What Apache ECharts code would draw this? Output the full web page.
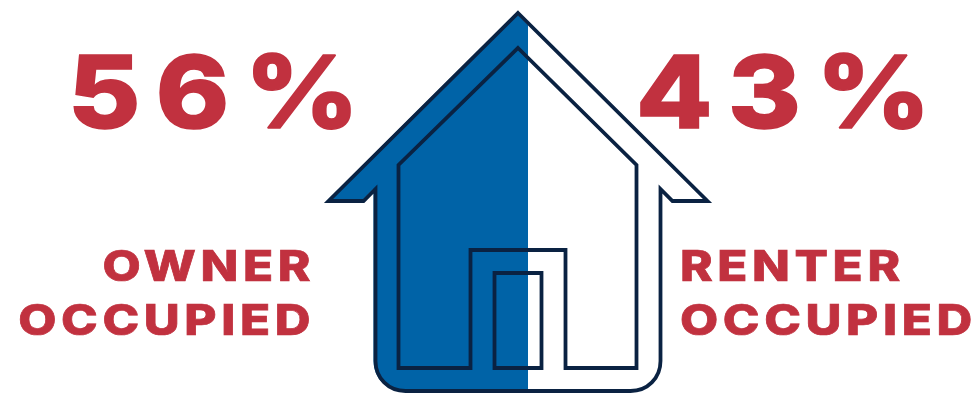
<!DOCTYPE html>
<html>
<head>
<meta charset="utf-8">
<style>html,body{margin:0;padding:0;background:#fff}#c{width:974px;height:393px}</style>
<script src="https://cdn.jsdelivr.net/npm/echarts@6/dist/echarts.min.js"></script>
</head>
<body>
<div id="c"></div>
<script>
// Housing tenure shares, in percent
const tenures = ['OWNER OCCUPIED', 'RENTER OCCUPIED'];
const shares = [56, 43];
const ownerWords = ['OWNER', 'OCCUPIED'];
const renterWords = ['RENTER', 'OCCUPIED'];

const RED = '#c1313f', BLUE = '#0063a7', NAVY = '#0a2242';
const FONT = 'Inter, "Liberation Sans", sans-serif';

// House silhouette and its interior line work
const shell = 'M517.5 13L707 201L672 201L660 189L660 361C660 378 647 391 630 391L405 391C388 391 375 378 375 361L375 189L363 201L328 201Z';
const interior = 'M517.5 48L636 165L636 368L565 368L565 250L470 250L470 368L398 368L398 165Z M494 273L541 273L541 368L494 368Z';

// The silhouette spans this many axis units, so the owner share ends at the split
const axisMax = 105.33;

function houseLayer(name, value, path, fill, stroke, z) {
  const outlined = stroke !== 'none';
  return {
    type: 'pictorialBar', name, z, silent: true,
    symbol: 'path://' + path,
    symbolClip: !outlined,
    symbolBoundingData: axisMax,
    symbolSize: ['100%', 378],
    symbolPosition: 'start',
    barGap: '-100%',
    itemStyle: {
      color: fill, borderColor: stroke, borderWidth: outlined ? 4 : 0,
      borderJoin: 'miter', borderMiterLimit: 10
    },
    data: [value]
  };
}

function word(text, x, y, size, scaleX, align, zlevel, weight) {
  return {
    type: 'text', x, y, scaleX, silent: true, zlevel,
    style: {
      text, x: 0, y: 0, font: '800 ' + size + 'px ' + FONT, fill: RED,
      stroke: RED, lineWidth: weight, textAlign: align, textVerticalAlign: 'middle'
    }
  };
}

const chart = echarts.init(document.getElementById('c'), null, { renderer: 'canvas' });

// Wide tracking for the two text sizes: each size sits on its own canvas layer
const painter = chart.getZr().painter;
painter.getLayer(1).ctx.letterSpacing = '14px';
painter.getLayer(2).ctx.letterSpacing = '4px';

chart.setOption({
  animation: false,
  backgroundColor: '#fff',
  grid: { left: 326.5, width: 379, top: 13, height: 378, containLabel: false },
  xAxis: { type: 'value', min: 0, max: axisMax, show: false },
  yAxis: { type: 'category', data: ['Share'], show: false },
  series: [
    houseLayer(tenures[1], shares[0] + shares[1], shell, '#ffffff', 'none', 1),
    houseLayer(tenures[0], shares[0], shell, BLUE, 'none', 2),
    houseLayer('Outline', axisMax, shell + ' ' + interior, 'none', NAVY, 3)
  ],
  graphic: [
    word(shares[0] + '%', 68, 98, 101, 1.1, 'left', 1, 1.5),
    word(shares[1] + '%', 636, 98, 101, 1.1, 'left', 1, 1.5),
    word(ownerWords[0], 315, 268.5, 43, 1.15, 'right', 2, 0.7),
    word(ownerWords[1], 315, 322.5, 43, 1.15, 'right', 2, 0.7),
    word(renterWords[0], 680, 268.5, 43, 1.15, 'left', 2, 0.7),
    word(renterWords[1], 680, 322.5, 43, 1.15, 'left', 2, 0.7)
  ]
});
</script>
</body>
</html>
